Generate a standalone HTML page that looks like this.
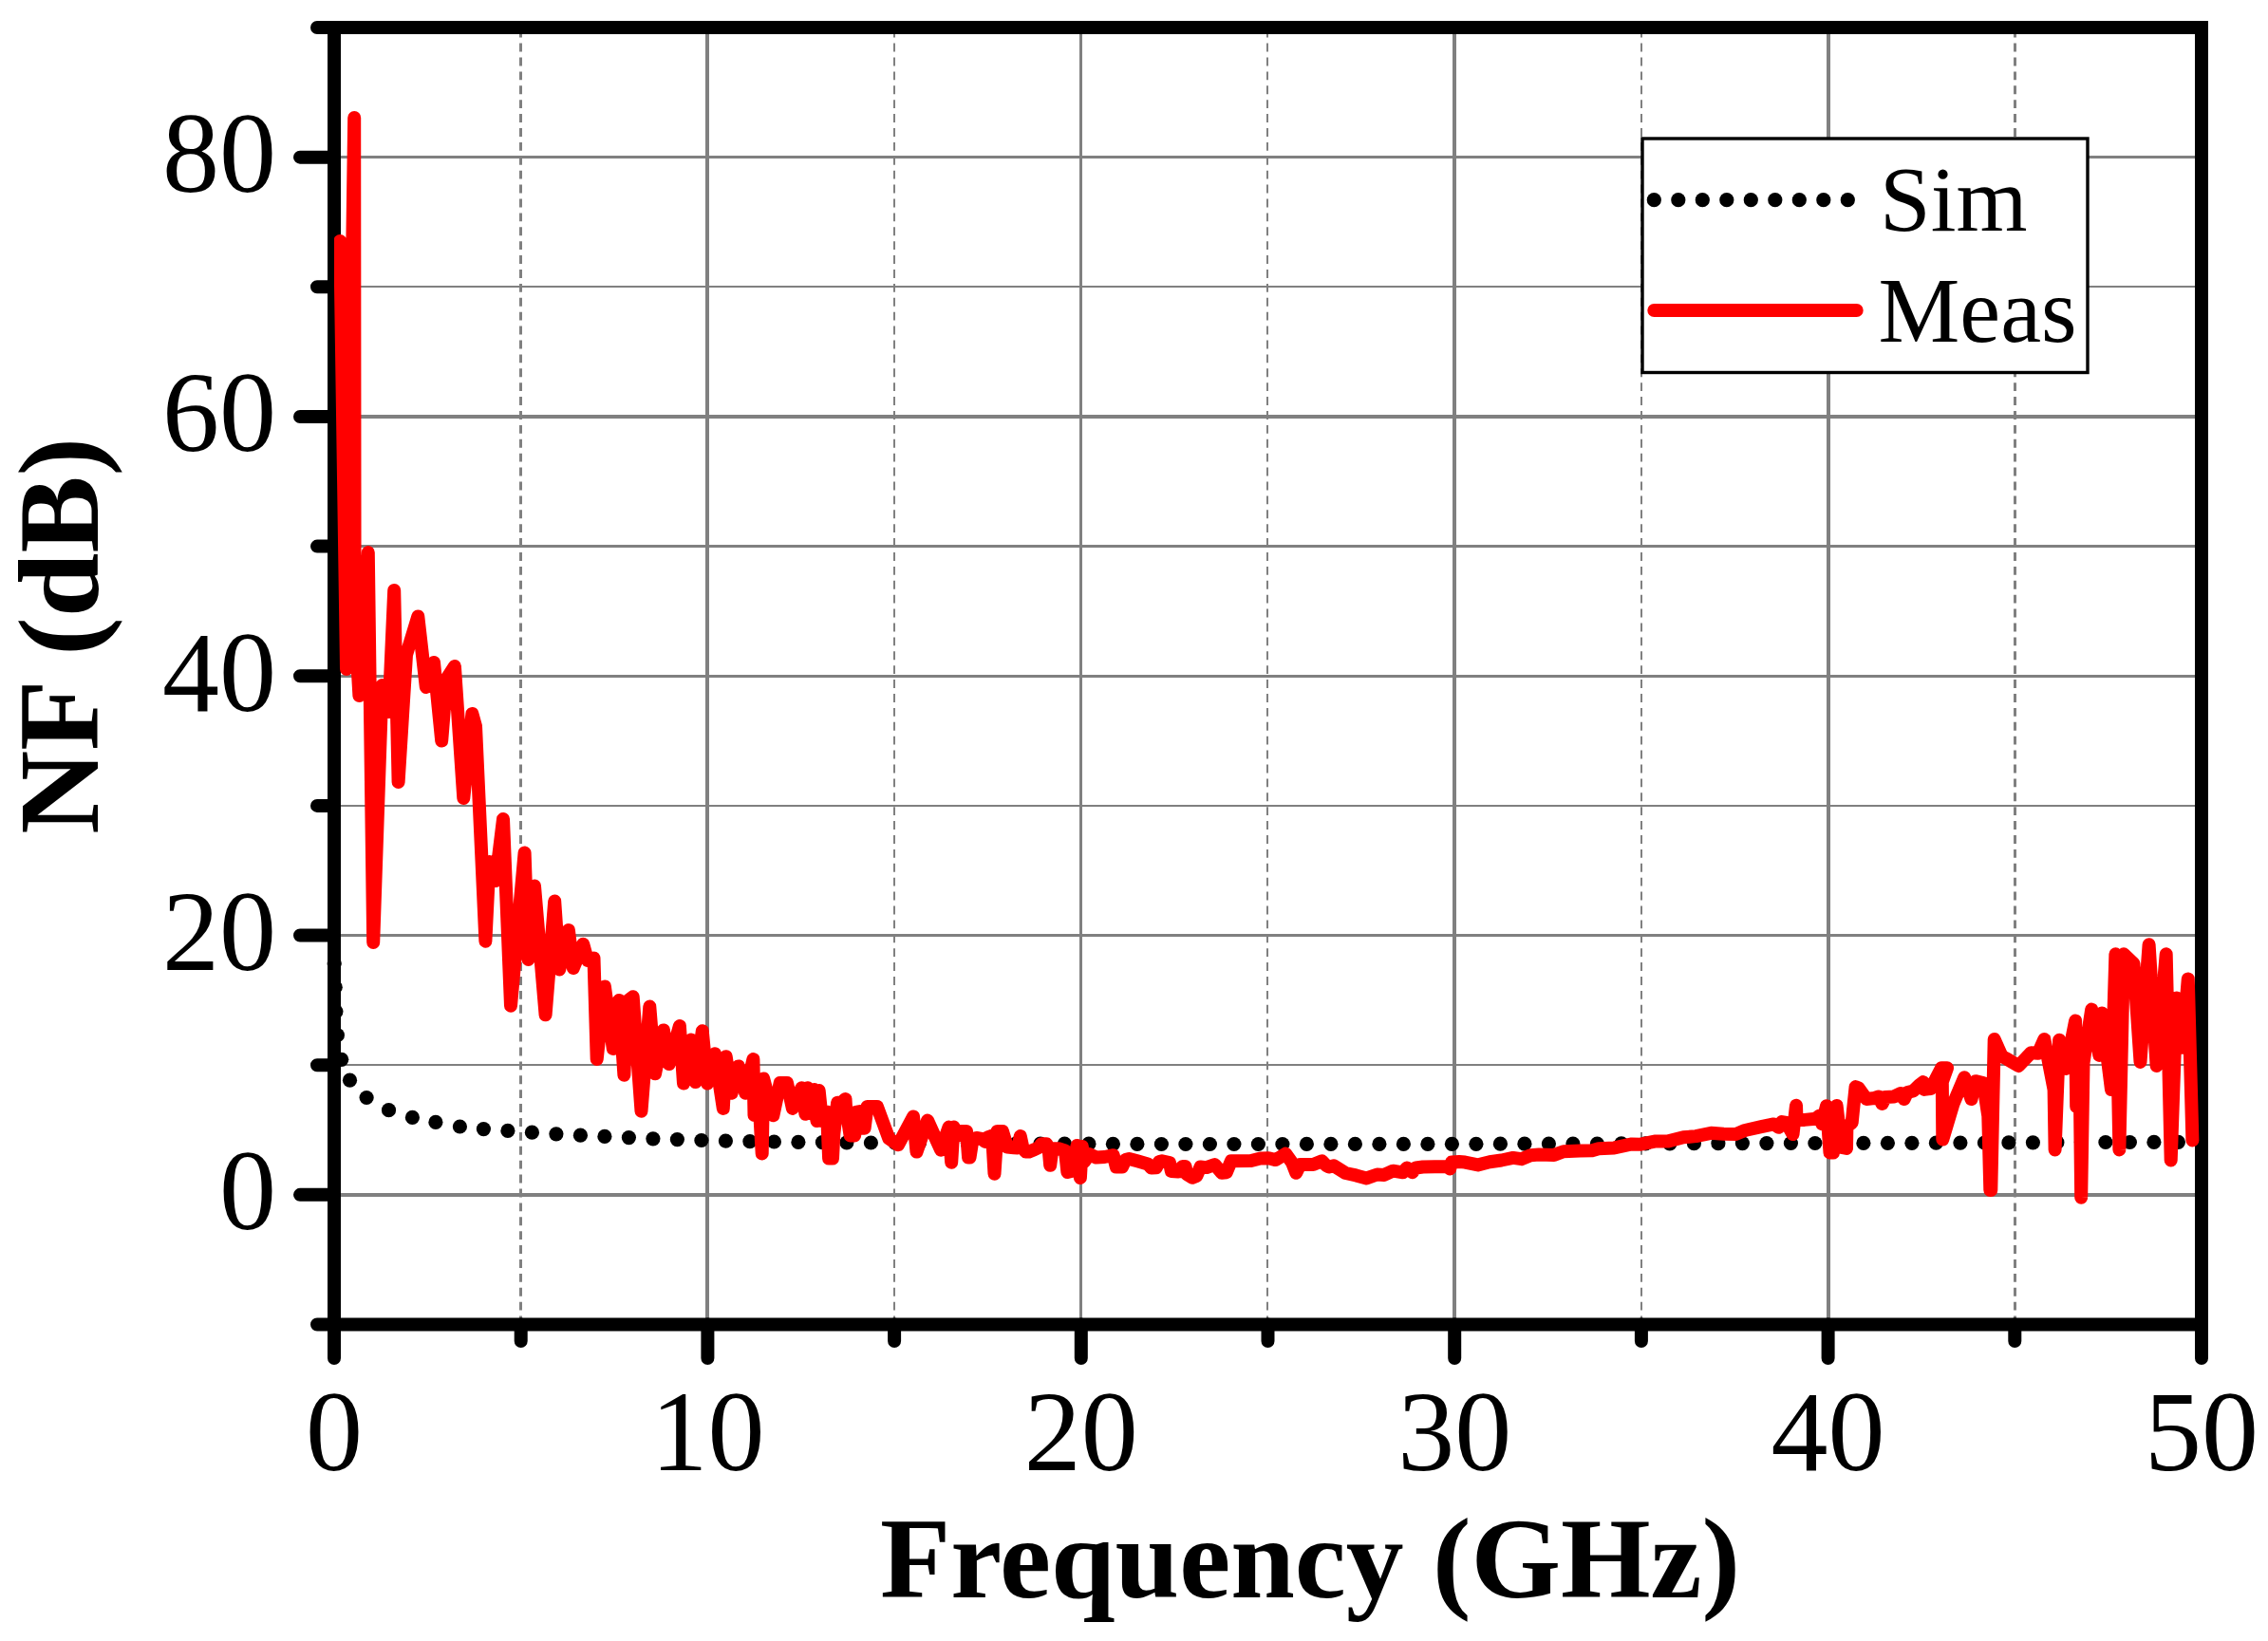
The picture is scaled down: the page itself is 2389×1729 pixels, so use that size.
<!DOCTYPE html>
<html lang="en"><head><meta charset="utf-8"><title>NF (dB) vs Frequency (GHz)</title>
<style>html,body{margin:0;padding:0;background:#fff;}body{width:2389px;height:1729px;overflow:hidden;}svg{display:block;}text{font-family:"Liberation Serif","Times New Roman",serif;fill:#000;}.tk{font-size:120px;}.tt{font-size:121.6px;font-weight:bold;}.lg{font-size:96.5px;}</style></head><body>
<svg width="2389" height="1729" viewBox="0 0 2389 1729">
<rect width="2389" height="1729" fill="#fff"/>
<g stroke="#808080" fill="none">
<line x1="352.0" y1="165.5" x2="2319.0" y2="165.5" stroke-width="3"/>
<line x1="352.0" y1="439" x2="2319.0" y2="439" stroke-width="4"/>
<line x1="352.0" y1="712.5" x2="2319.0" y2="712.5" stroke-width="3"/>
<line x1="352.0" y1="985.5" x2="2319.0" y2="985.5" stroke-width="3"/>
<line x1="352.0" y1="1259" x2="2319.0" y2="1259" stroke-width="4"/>
<line x1="352.0" y1="302" x2="2319.0" y2="302" stroke-width="2"/>
<line x1="352.0" y1="575.5" x2="2319.0" y2="575.5" stroke-width="3"/>
<line x1="352.0" y1="849" x2="2319.0" y2="849" stroke-width="2"/>
<line x1="352.0" y1="1122" x2="2319.0" y2="1122" stroke-width="2"/>
<line x1="745" y1="29.0" x2="745" y2="1395.5" stroke-width="4"/>
<line x1="1138.5" y1="29.0" x2="1138.5" y2="1395.5" stroke-width="3"/>
<line x1="1532" y1="29.0" x2="1532" y2="1395.5" stroke-width="4"/>
<line x1="1926" y1="29.0" x2="1926" y2="1395.5" stroke-width="4"/>
<line x1="548.5" y1="29.0" x2="548.5" y2="1395.5" stroke-width="3" stroke-dasharray="8.9 6" stroke-dashoffset="-1.7"/>
<line x1="942" y1="29.0" x2="942" y2="1395.5" stroke-width="2" stroke-dasharray="8.9 6" stroke-dashoffset="-1.7"/>
<line x1="1335" y1="29.0" x2="1335" y2="1395.5" stroke-width="2" stroke-dasharray="8.9 6" stroke-dashoffset="-1.7"/>
<line x1="1729" y1="29.0" x2="1729" y2="1395.5" stroke-width="2" stroke-dasharray="8.9 6" stroke-dashoffset="-1.7"/>
<line x1="2122.5" y1="29.0" x2="2122.5" y2="1395.5" stroke-width="3" stroke-dasharray="8.9 6" stroke-dashoffset="-1.7"/>
</g>
<g fill="#000">
<circle cx="352.2" cy="1015.0" r="7.6"/>
<circle cx="353.2" cy="1040.2" r="7.6"/>
<circle cx="353.9" cy="1065.8" r="7.6"/>
<circle cx="355.4" cy="1090.7" r="7.6"/>
<circle cx="359.7" cy="1116.3" r="7.6"/>
<circle cx="368.5" cy="1138.2" r="7.6"/>
<circle cx="386.1" cy="1156.5" r="7.6"/>
<circle cx="409.5" cy="1169.7" r="7.6"/>
<circle cx="434.4" cy="1177.4" r="7.6"/>
<circle cx="458.9" cy="1182.4" r="7.6"/>
<circle cx="484.4" cy="1187.0" r="7.6"/>
<circle cx="509.4" cy="1189.6" r="7.6"/>
<circle cx="534.9" cy="1191.4" r="7.6"/>
<circle cx="560.4" cy="1193.2" r="7.6"/>
<circle cx="585.9" cy="1194.8" r="7.6"/>
<circle cx="611.4" cy="1196.2" r="7.6"/>
<circle cx="636.9" cy="1197.4" r="7.6"/>
<circle cx="662.4" cy="1198.6" r="7.6"/>
<circle cx="687.9" cy="1199.8" r="7.6"/>
<circle cx="713.4" cy="1200.6" r="7.6"/>
<circle cx="738.9" cy="1201.5" r="7.6"/>
<circle cx="764.4" cy="1202.1" r="7.6"/>
<circle cx="789.9" cy="1202.7" r="7.6"/>
<circle cx="815.4" cy="1203.0" r="7.6"/>
<circle cx="840.9" cy="1203.4" r="7.6"/>
<circle cx="866.4" cy="1203.6" r="7.6"/>
<circle cx="891.9" cy="1203.8" r="7.6"/>
<circle cx="917.4" cy="1204.0" r="7.6"/>
<circle cx="942.9" cy="1204.2" r="7.6"/>
<circle cx="968.4" cy="1204.4" r="7.6"/>
<circle cx="993.9" cy="1204.6" r="7.6"/>
<circle cx="1019.4" cy="1204.7" r="7.6"/>
<circle cx="1044.9" cy="1204.8" r="7.6"/>
<circle cx="1070.4" cy="1204.9" r="7.6"/>
<circle cx="1095.9" cy="1205.0" r="7.6"/>
<circle cx="1121.4" cy="1205.1" r="7.6"/>
<circle cx="1146.9" cy="1205.2" r="7.6"/>
<circle cx="1172.4" cy="1205.3" r="7.6"/>
<circle cx="1197.9" cy="1205.4" r="7.6"/>
<circle cx="1223.4" cy="1205.5" r="7.6"/>
<circle cx="1248.9" cy="1205.5" r="7.6"/>
<circle cx="1274.4" cy="1205.5" r="7.6"/>
<circle cx="1299.9" cy="1205.5" r="7.6"/>
<circle cx="1325.4" cy="1205.5" r="7.6"/>
<circle cx="1350.9" cy="1205.5" r="7.6"/>
<circle cx="1376.4" cy="1205.4" r="7.6"/>
<circle cx="1401.9" cy="1205.4" r="7.6"/>
<circle cx="1427.4" cy="1205.4" r="7.6"/>
<circle cx="1452.9" cy="1205.4" r="7.6"/>
<circle cx="1478.4" cy="1205.4" r="7.6"/>
<circle cx="1503.9" cy="1205.4" r="7.6"/>
<circle cx="1529.4" cy="1205.3" r="7.6"/>
<circle cx="1554.9" cy="1205.3" r="7.6"/>
<circle cx="1580.4" cy="1205.2" r="7.6"/>
<circle cx="1605.9" cy="1205.2" r="7.6"/>
<circle cx="1631.4" cy="1205.1" r="7.6"/>
<circle cx="1656.9" cy="1205.0" r="7.6"/>
<circle cx="1682.4" cy="1205.0" r="7.6"/>
<circle cx="1707.9" cy="1204.9" r="7.6"/>
<circle cx="1733.4" cy="1204.9" r="7.6"/>
<circle cx="1758.9" cy="1204.8" r="7.6"/>
<circle cx="1784.4" cy="1204.7" r="7.6"/>
<circle cx="1809.9" cy="1204.7" r="7.6"/>
<circle cx="1835.4" cy="1204.6" r="7.6"/>
<circle cx="1860.9" cy="1204.6" r="7.6"/>
<circle cx="1886.4" cy="1204.5" r="7.6"/>
<circle cx="1911.9" cy="1204.5" r="7.6"/>
<circle cx="1937.4" cy="1204.4" r="7.6"/>
<circle cx="1962.9" cy="1204.4" r="7.6"/>
<circle cx="1988.4" cy="1204.3" r="7.6"/>
<circle cx="2013.9" cy="1204.3" r="7.6"/>
<circle cx="2039.4" cy="1204.2" r="7.6"/>
<circle cx="2064.9" cy="1204.1" r="7.6"/>
<circle cx="2090.4" cy="1204.0" r="7.6"/>
<circle cx="2115.9" cy="1203.9" r="7.6"/>
<circle cx="2141.4" cy="1203.8" r="7.6"/>
<circle cx="2166.9" cy="1203.7" r="7.6"/>
<circle cx="2192.4" cy="1203.6" r="7.6"/>
<circle cx="2217.9" cy="1203.5" r="7.6"/>
<circle cx="2243.4" cy="1203.5" r="7.6"/>
<circle cx="2268.9" cy="1203.4" r="7.6"/>
<circle cx="2294.4" cy="1203.3" r="7.6"/>
</g>
<g stroke="#000" stroke-width="14" stroke-linecap="round" fill="none">
<path d="M345.0 29.0H2326.0M345.0 1395.5H2326.0" stroke-linecap="butt"/>
<path d="M352.0 29.0V1395.5M2319.0 29.0V1395.5" stroke-linecap="butt"/>
<path d="M352.0 165.65H316.0M352.0 438.95H316.0M352.0 712.25H316.0M352.0 985.55H316.0M352.0 1258.85H316.0M352.0 29.00H334.0M352.0 302.30H334.0M352.0 575.60H334.0M352.0 848.90H334.0M352.0 1122.20H334.0M352.0 1395.50H334.0M352.00 1395.5V1431.0M745.40 1395.5V1431.0M1138.80 1395.5V1431.0M1532.20 1395.5V1431.0M1925.60 1395.5V1431.0M2319.00 1395.5V1431.0M548.70 1395.5V1413.0M942.10 1395.5V1413.0M1335.50 1395.5V1413.0M1728.90 1395.5V1413.0M2122.30 1395.5V1413.0"/>
</g>
<clipPath id="pc"><rect x="352.0" y="0" width="1974.0" height="1729"/></clipPath>
<polyline clip-path="url(#pc)" fill="none" stroke="#ff0000" stroke-width="14" stroke-linejoin="round" stroke-linecap="round" points="358.3,254.0 365.0,705.0 373.2,124.0 373.6,650.0 378.4,733.0 387.8,582.0 393.2,993.0 402.5,722.0 409.5,750.0 415.2,622.0 419.6,824.0 428.0,690.0 440.3,649.5 448.8,724.0 457.0,698.0 465.2,780.5 470.5,715.0 478.9,702.0 488.3,841.0 497.4,752.0 501.0,765.0 511.4,991.7 515.5,908.0 522.0,928.0 530.0,863.0 538.0,1059.7 552.6,898.5 556.5,1011.0 563.0,933.5 574.6,1069.3 584.2,949.5 589.2,1021.5 598.9,980.0 603.8,1020.0 614.2,994.7 619.0,1012.0 625.5,1009.5 628.7,1116.0 636.9,1039.5 645.8,1105.0 652.1,1054.0 657.4,1132.8 660.5,1055.0 666.7,1050.3 675.5,1170.8 684.3,1060.5 690.1,1131.3 698.9,1085.4 704.7,1121.0 715.9,1081.0 720.0,1141.5 728.1,1095.6 732.5,1140.0 739.8,1086.3 745.1,1141.5 753.0,1110.3 761.8,1167.9 764.7,1113.2 770.6,1151.8 777.9,1123.4 785.2,1151.8 793.4,1116.1 794.5,1175.0 799.0,1150.0 802.7,1215.5 804.2,1136.6 814.4,1175.2 821.7,1141.0 829.0,1141.0 834.9,1167.9 844.4,1146.2 848.4,1173.8 850.6,1146.2 855.7,1173.8 857.6,1148.1 860.5,1181.1 862.7,1149.1 866.0,1181.1 871.1,1171.4 873.1,1220.6 877.0,1220.6 878.3,1194.7 882.1,1161.7 885.5,1162.5 890.5,1158.0 891.0,1167.0 895.6,1196.5 900.2,1196.5 901.5,1172.0 906.9,1171.0 908.0,1188.8 910.6,1188.8 913.5,1166.1 924.0,1166.1 936.3,1199.5 946.1,1206.2 962.0,1176.5 965.5,1213.6 977.0,1180.5 991.1,1211.7 999.5,1187.5 1002.2,1224.8 1004.5,1187.5 1009.4,1196.3 1012.5,1191.9 1018.0,1191.9 1020.1,1219.6 1021.5,1219.6 1024.0,1203.8 1028.5,1199.0 1034.0,1200.0 1037.9,1203.0 1040.3,1198.3 1045.1,1196.7 1047.5,1236.7 1050.5,1191.9 1056.0,1191.9 1061.0,1208.5 1068.1,1209.3 1072.0,1209.5 1074.8,1197.1 1077.5,1209.7 1080.4,1213.5 1084.0,1213.5 1089.5,1211.3 1094.3,1209.0 1097.0,1205.2 1102.2,1205.2 1104.5,1209.0 1106.2,1227.8 1108.5,1210.0 1115.0,1210.3 1122.0,1212.5 1124.4,1235.1 1130.4,1233.5 1134.5,1207.0 1137.9,1241.0 1139.8,1208.0 1142.0,1224.0 1147.4,1216.0 1154.8,1219.6 1163.5,1219.0 1172.7,1217.2 1175.8,1229.6 1182.0,1229.6 1185.5,1222.0 1189.4,1220.9 1198.0,1223.3 1209.1,1226.4 1212.8,1230.6 1217.8,1230.2 1221.0,1224.0 1224.0,1223.3 1232.0,1225.0 1233.8,1234.0 1241.2,1234.6 1245.7,1229.0 1248.6,1229.0 1249.9,1237.0 1256.0,1240.7 1260.4,1238.9 1264.5,1229.5 1270.9,1230.1 1279.5,1227.0 1286.9,1235.8 1291.9,1235.2 1296.8,1223.3 1317.8,1223.0 1327.7,1220.5 1336.3,1220.2 1343.7,1222.1 1354.2,1215.6 1361.0,1225.0 1365.3,1235.8 1369.5,1227.0 1383.2,1227.0 1392.5,1223.3 1397.0,1228.0 1400.0,1229.5 1404.9,1228.3 1417.3,1236.0 1428.4,1238.4 1439.5,1241.4 1450.6,1237.5 1458.0,1237.9 1467.3,1233.7 1477.8,1235.3 1482.1,1230.4 1487.7,1235.2 1491.4,1230.5 1498.8,1229.5 1524.1,1228.9 1527.2,1231.5 1529.0,1224.6 1537.0,1224.1 1543.2,1224.6 1556.8,1227.4 1569.1,1224.3 1581.5,1222.5 1593.8,1219.9 1602.5,1221.2 1612.3,1217.2 1621.0,1216.5 1637.0,1216.9 1646.9,1213.2 1664.2,1212.6 1677.0,1212.2 1683.9,1210.2 1700.4,1209.4 1718.9,1205.4 1728.2,1205.7 1744.1,1202.4 1757.3,1202.4 1773.2,1198.3 1786.4,1197.1 1802.3,1193.8 1815.5,1194.8 1828.7,1194.9 1838.0,1191.0 1855.2,1187.1 1868.4,1184.4 1873.7,1187.8 1877.0,1182.0 1881.6,1182.9 1888.5,1195.1 1892.0,1164.8 1892.5,1179.6 1900.8,1179.9 1912.7,1178.7 1916.7,1175.4 1919.3,1184.2 1924.0,1165.2 1927.5,1214.5 1931.0,1214.5 1934.6,1165.1 1939.8,1209.0 1945.0,1210.0 1945.4,1186.9 1950.7,1182.9 1952.0,1169.7 1954.6,1145.1 1957.8,1146.5 1966.0,1158.0 1974.5,1157.0 1979.0,1155.5 1982.5,1163.0 1986.0,1156.0 1995.1,1155.4 2002.0,1152.0 2005.7,1158.0 2009.0,1151.0 2015.3,1149.5 2022.0,1143.0 2025.9,1140.1 2027.0,1147.9 2033.8,1147.0 2045.1,1125.3 2051.0,1125.3 2045.8,1140.0 2046.3,1200.5 2057.5,1163.0 2069.2,1135.2 2076.5,1158.1 2080.9,1139.2 2089.0,1141.0 2094.3,1176.0 2096.3,1253.9 2097.3,1253.9 2100.7,1095.0 2108.7,1113.1 2114.6,1116.1 2126.3,1123.0 2139.5,1109.2 2146.8,1109.8 2153.3,1095.0 2163.6,1148.2 2164.6,1211.4 2169.1,1095.8 2176.1,1125.9 2186.1,1075.6 2187.2,1166.0 2190.5,1120.0 2192.2,1261.7 2194.5,1120.0 2203.2,1063.6 2211.3,1111.9 2213.9,1067.6 2224.0,1148.1 2228.4,1005.3 2232.4,1211.4 2237.0,1005.3 2247.5,1015.3 2254.5,1118.9 2263.6,995.2 2271.6,1122.9 2281.7,1005.3 2286.7,1222.5 2292.7,1051.5 2298.8,1103.8 2304.8,1031.4 2309.4,1201.4"/>
<rect x="1730" y="146" width="469" height="246.5" fill="#fff" stroke="#000" stroke-width="3.4"/>
<g fill="#000">
<circle cx="1742.3" cy="210.7" r="7.6"/>
<circle cx="1767.8" cy="210.7" r="7.6"/>
<circle cx="1793.3" cy="210.7" r="7.6"/>
<circle cx="1818.8" cy="210.7" r="7.6"/>
<circle cx="1844.3" cy="210.7" r="7.6"/>
<circle cx="1869.8" cy="210.7" r="7.6"/>
<circle cx="1895.3" cy="210.7" r="7.6"/>
<circle cx="1920.8" cy="210.7" r="7.6"/>
<circle cx="1946.3" cy="210.7" r="7.6"/>
</g>
<line x1="1742.3" y1="327" x2="1955.7" y2="327" stroke="#ff0000" stroke-width="14" stroke-linecap="round"/>
<text class="lg" x="1980" y="243">Sim</text>
<text class="lg" x="1978.5" y="360">Meas</text>
<text class="tk" x="291" y="201.9" text-anchor="end">80</text>
<text class="tk" x="291" y="475.1" text-anchor="end">60</text>
<text class="tk" x="291" y="748.5" text-anchor="end">40</text>
<text class="tk" x="291" y="1021.8" text-anchor="end">20</text>
<text class="tk" x="291" y="1295.0" text-anchor="end">0</text>
<text class="tk" x="352.0" y="1549" text-anchor="middle">0</text>
<text class="tk" x="745.4" y="1549" text-anchor="middle">10</text>
<text class="tk" x="1138.8" y="1549" text-anchor="middle">20</text>
<text class="tk" x="1532.2" y="1549" text-anchor="middle">30</text>
<text class="tk" x="1925.6" y="1549" text-anchor="middle">40</text>
<text class="tk" x="2319.0" y="1549" text-anchor="middle">50</text>
<text class="tt" x="1380" y="1683" text-anchor="middle">Frequency (GHz)</text>
<text class="tt" transform="translate(103 669.8) rotate(-90)" text-anchor="middle">NF (dB)</text>
</svg></body></html>
